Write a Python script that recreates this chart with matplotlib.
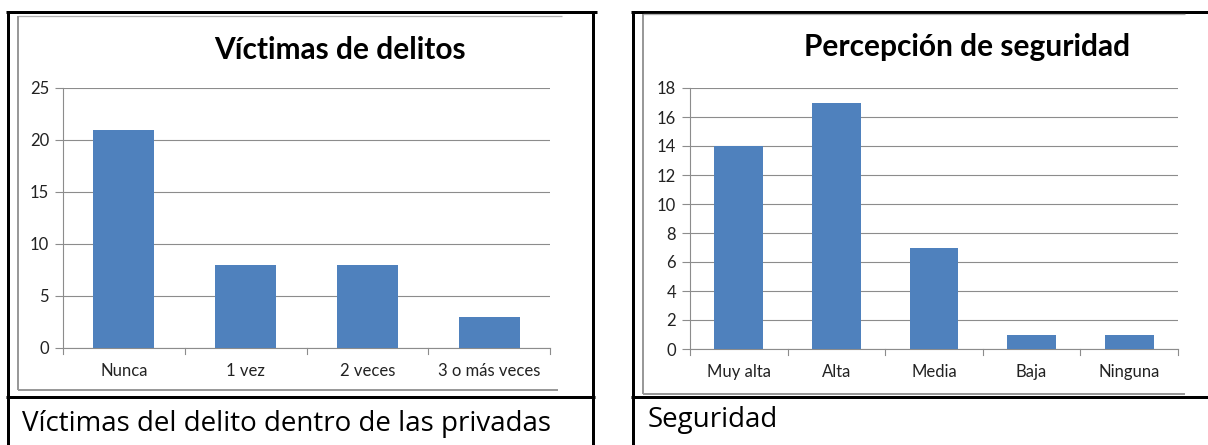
import matplotlib
matplotlib.use("Agg")
import matplotlib.pyplot as plt
from matplotlib.lines import Line2D

W, H = 1208, 445

# ---- data ----
left_title = "Víctimas de delitos"
left_categories = ["Nunca", "1 vez", "2 veces", "3 o más veces"]
left_values = [21, 8, 8, 3]
left_yticks = [0, 5, 10, 15, 20, 25]
left_caption = "Víctimas del delito dentro de las privadas"

right_title = "Percepción de seguridad"
right_categories = ["Muy alta", "Alta", "Media", "Baja", "Ninguna"]
right_values = [14, 17, 7, 1, 1]
right_yticks = [0, 2, 4, 6, 8, 10, 12, 14, 16, 18]
right_caption = "Seguridad"

BAR = "#4F81BD"
GRID = "#8C8C8C"
CHART_FONT = ["Lato", "DejaVu Sans"]
CAP_FONT = ["Open Sans", "DejaVu Sans"]

fig = plt.figure(figsize=(W / 100, H / 100), dpi=100)
fig.patch.set_facecolor("white")


def fx(x):
    return x / W


def fy(y):
    return 1 - y / H


def line(x0, y0, x1, y1, color="black", lw=3.0):
    fig.add_artist(Line2D([fx(x0), fx(x1)], [fy(y0), fy(y1)], color=color,
                          linewidth=lw * 0.72, transform=fig.transFigure,
                          solid_capstyle="butt"))


def add_ax(x0, y0, x1, y1):
    return fig.add_axes([fx(x0), fy(y1), fx(x1 - x0), (y1 - y0) / H])


def bar_chart(ax, cats, vals, yticks):
    n = len(cats)
    xs = list(range(n))
    ax.bar(xs, vals, width=0.5, color=BAR, zorder=3)
    ax.set_xlim(-0.5, n - 0.5)
    ax.set_ylim(yticks[0], yticks[-1])
    ax.set_yticks(yticks)
    ax.set_yticklabels([str(t) for t in yticks], fontfamily=CHART_FONT,
                       fontsize=12, color="#222222")
    ax.set_xticks(xs)
    ax.set_xticklabels(cats, fontfamily=CHART_FONT, fontsize=12,
                       color="#222222")
    ax.tick_params(axis="x", length=0, pad=11)
    ax.tick_params(axis="y", length=6, color=GRID, width=0.8, pad=4)
    # boundary ticks on x axis
    for b in [i - 0.5 for i in range(n + 1)]:
        ax.plot([b, b], [0, -0.022 * (yticks[-1])], color=GRID, lw=0.8,
                clip_on=False, zorder=2)
    ax.grid(axis="y", color=GRID, linewidth=0.8, zorder=0)
    for s in ["top", "right"]:
        ax.spines[s].set_visible(False)
    for s in ["left", "bottom"]:
        ax.spines[s].set_color(GRID)
        ax.spines[s].set_linewidth(0.8)
    ax.set_facecolor("none")


# ---- left panel frame ----
line(6, 12, 597, 12)
line(8, 10.5, 8, 445)
line(593, 10.5, 593, 445)
line(6, 397, 595, 397)
# inner chart gray frame
line(18, 16, 562, 16, color="#B0B0B0", lw=1.3)
line(18, 16, 18, 390, color="#999999", lw=2.0)
line(18, 390, 558, 390, color="#999999", lw=2.0)

axL = add_ax(63, 88, 550, 348)
bar_chart(axL, left_categories, left_values, left_yticks)
fig.text(fx(340), fy(50), left_title, fontfamily=CHART_FONT, fontweight="bold",
         fontsize=21.5, ha="center", va="center", color="black")
fig.text(fx(22), fy(424), left_caption, fontfamily=CAP_FONT, fontsize=20,
         ha="left", va="center", color="black")

# ---- right panel frame ----
line(631, 12, 1208, 12)
line(633, 10.5, 633, 445)
line(631, 397, 1208, 397)
line(643, 14, 1185, 14, color="#B0B0B0", lw=1.3)
line(643, 14, 643, 394, color="#999999", lw=2.0)
line(643, 394, 1185, 394, color="#999999", lw=2.0)

axR = add_ax(690, 88, 1178, 349)
bar_chart(axR, right_categories, right_values, right_yticks)
fig.text(fx(967), fy(47), right_title, fontfamily=CHART_FONT, fontweight="bold",
         fontsize=21.5, ha="center", va="center", color="black")
fig.text(fx(648), fy(420), right_caption, fontfamily=CAP_FONT, fontsize=20,
         ha="left", va="center", color="black")

fig.savefig("out.png", dpi=100, facecolor="white")
